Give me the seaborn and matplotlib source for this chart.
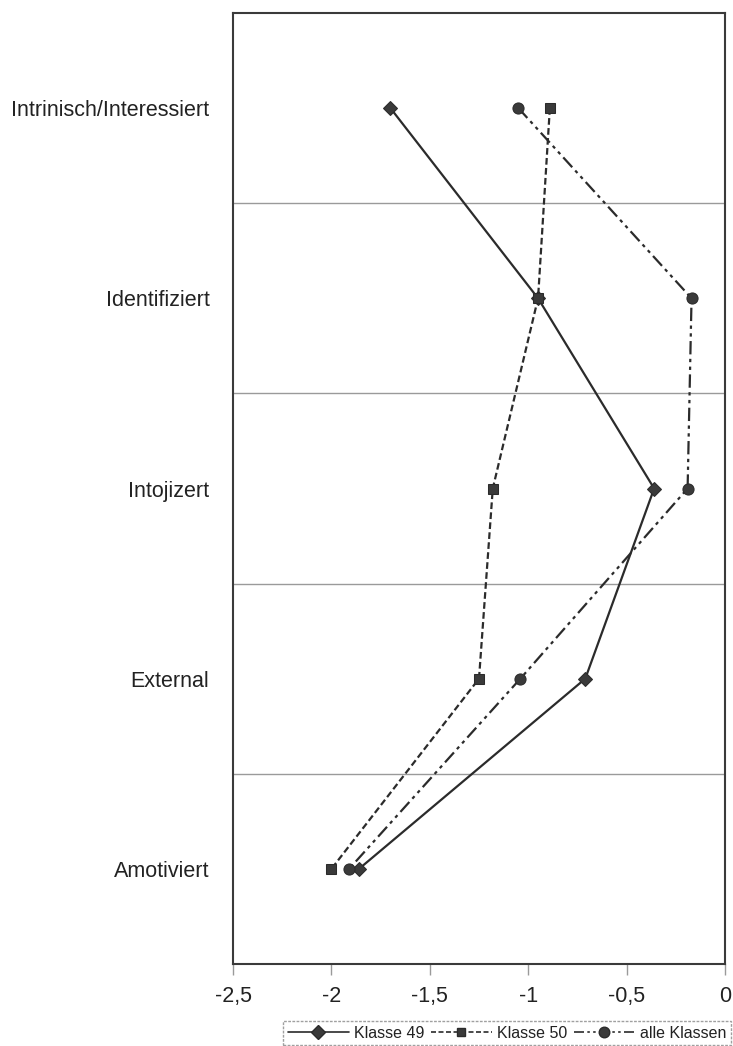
import matplotlib
matplotlib.use("Agg")
import matplotlib.pyplot as plt
import seaborn as sns
import pandas as pd
from matplotlib.lines import Line2D
from matplotlib.ticker import FuncFormatter

categories = ["Intrinisch/Interessiert", "Identifiziert", "Intojizert", "External", "Amotiviert"]
klasse49 = [-1.70, -0.95, -0.36, -0.71, -1.86]
klasse50 = [-0.89, -0.95, -1.18, -1.25, -2.00]
alle_klassen = [-1.05, -0.17, -0.19, -1.04, -1.91]
series_names = ["Klasse 49", "Klasse 50", "alle Klassen"]
x_ticks = [-2.5, -2.0, -1.5, -1.0, -0.5, 0.0]

sns.set_theme(style="white")
plt.rcParams['font.family'] = ['Liberation Sans', 'DejaVu Sans']

fig = plt.figure(figsize=(7.33, 10.46), dpi=100)
ax = fig.add_axes([233/733, 1 - 964/1046, (725 - 233)/733, (964 - 13)/1046])

styles = [
    dict(marker="D", markersize=7.5, linestyle="-"),
    dict(marker="s", markersize=6.5, linestyle=(0, (3, 1.5))),
    dict(marker="o", markersize=8, linestyle=(0, (6, 2, 1.5, 2, 1.5, 2))),
]
col = "#2b2b2b"
handles = []
for name, vals, st in zip(series_names, [klasse49, klasse50, alle_klassen], styles):
    df = pd.DataFrame({"x": vals, "y": list(range(len(categories)))})
    sns.lineplot(data=df, x="x", y="y", sort=False, estimator=None, ax=ax,
                 color=col, linewidth=1.6, marker=st["marker"], markersize=st["markersize"],
                 linestyle=st["linestyle"], markeredgecolor=col, markerfacecolor="#3a3a3a",
                 legend=False)
    handles.append(Line2D([0], [0], color=col, linewidth=1.2, marker=st["marker"],
                          markersize=st["markersize"] * 0.95, linestyle=st["linestyle"],
                          markerfacecolor="#3a3a3a", markeredgecolor=col, label=name))

ax.set_xlim(-2.5, 0)
ax.set_ylim(len(categories) - 0.5, -0.5)
ax.set_yticks(range(len(categories)))
ax.set_yticklabels(categories)
ax.set_xticks(x_ticks)
ax.xaxis.set_major_formatter(FuncFormatter(lambda v, p: ("%g" % v).replace(".", ",")))
ax.set_xlabel("")
ax.set_ylabel("")

for b in [0.5, 1.5, 2.5, 3.5]:
    ax.axhline(b, color="#9a9a9a", linewidth=1.0, zorder=0)

for s in ax.spines.values():
    s.set_color("#3a3a3a")
    s.set_linewidth(1.5)

ax.tick_params(axis="x", direction="out", length=8, width=1.0, color="#9a9a9a",
               labelsize=15.5, pad=8, labelcolor="#222222", bottom=True)
ax.tick_params(axis="y", length=0, labelsize=15.5, pad=17, labelcolor="#222222")

leg = fig.legend(handles=handles, loc="center", bbox_to_anchor=(507/733, 1 - 1033/1046),
                 ncol=3, fontsize=11.5, frameon=True, fancybox=False, handlelength=3.8,
                 handletextpad=0.3, columnspacing=0.45, borderpad=0.3, borderaxespad=0)
leg.get_frame().set_edgecolor("#888888")
leg.get_frame().set_linewidth(1.0)
leg.get_frame().set_linestyle((0, (2, 1)))
for t in leg.get_texts():
    t.set_color("#222222")

fig.savefig("out.png", dpi=100)
